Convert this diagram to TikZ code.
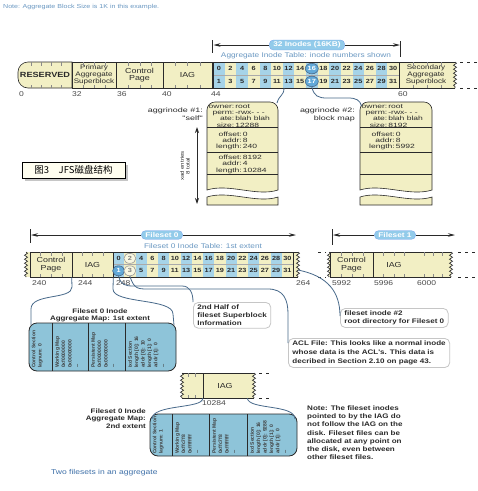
\documentclass[tikz,border=0pt]{standalone}
\usepackage{fontspec}
\setmainfont{Liberation Sans}
\newfontfamily\fa[FakeStretch=1.22]{Liberation Sans}
\newfontfamily\fb[FakeStretch=1.4]{Liberation Sans}
\newfontfamily\cjk{Noto Sans CJK SC}
\usetikzlibrary{decorations.pathmorphing,arrows.meta,shapes.geometric}
\definecolor{ylw}{HTML}{F2EFC4}
\definecolor{lblue}{HTML}{A6D3E8}
\definecolor{bxblue}{HTML}{8EC4D9}
\definecolor{dk}{HTML}{2A2A2A}
\definecolor{steel}{HTML}{6A98C2}
\definecolor{bub}{HTML}{92CBEA}
\definecolor{cline}{HTML}{48698A}
\definecolor{cblue}{HTML}{62A9D8}
\definecolor{capblue}{HTML}{3D6FA8}
\newcommand\fs[2]{\fontsize{#1}{#2}\selectfont}
\tikzset{
  every node/.style={inner sep=0pt},
  seg/.style={draw=dk, fill=ylw, line width=0.6pt, minimum height=26pt, align=center, font=\fa\fs{7.3}{7.6}, text=dk},
  plab/.style={anchor=west, font=\fa\fs{7}{7}, text=dk!85},
  num/.style={font=\fa\bfseries\fs{6}{6}, text=dk},
  tick/.style={draw=dk!55, line width=0.4pt},
  wave/.style={decorate, decoration={snake, amplitude=1.5pt, segment length=4pt}, draw=dk, line width=0.6pt},
  dsh/.style={draw=dk, line width=0.6pt, dash pattern=on 3pt off 4pt},
  link/.style={draw=cline, line width=0.8pt},
  bubble/.style={fill=bub, draw=bub!80!blue, line width=0.3pt, rounded corners=4pt, text=white, font=\fa\bfseries\fs{6.8}{7}, inner xsep=4pt, inner ysep=1.8pt},
  dimarr/.style={draw=dk, line width=0.7pt, -{Stealth[length=7pt,width=3.5pt]}},
  ellA/.style={ellipse, draw=cline, fill=cblue, text=white, minimum width=13pt, minimum height=10.5pt, line width=0.6pt, font=\fa\bfseries\fs{6}{6}},
  ellB/.style={ellipse, draw=gray!80, fill=white!50!ylw, text=dk!60, minimum width=12pt, minimum height=10pt, line width=0.6pt, font=\fa\bfseries\fs{6}{6}},
  boxtxt/.style={anchor=north west, font=\fb\fs{6.1}{6.1}, text=dk},
  bluebox/.style={draw=dk, fill=bxblue, rounded corners=8pt, line width=0.8pt},
  coltxt/.style={rotate=90, anchor=north west, align=left, font=\bfseries\fs{5}{6.4}, text=dk!90},
  callout/.style={draw=gray!45, line width=0.8pt, rounded corners=5pt, fill=white, anchor=north west, align=left, inner xsep=4pt, inner ysep=2.5pt, text=dk},
  ann/.style={font=\fa\bfseries\fs{6.6}{8}},
}
\begin{document}
\begin{tikzpicture}[x=1pt,y=-1pt]
\path[use as bounding box, fill=white] (0,0) rectangle (478,491);

% ---------- top note ----------
\node[anchor=west, font=\fa\fs{5.8}{6}, text=steel] (topnote) at (3,6.5) {Note: Aggregate Block Size is 1K in this example.};

% ---------- aggregate bar ----------
\draw[fill=ylw, draw=dk, line width=0.6pt] (72,62) -- (28,62) arc[start angle=90, end angle=180, radius=10pt] -- (18,78) arc[start angle=180, end angle=270, radius=10pt] -- (72,88) -- cycle;
\node[font=\fa\bfseries\fs{7.5}{7.5}, text=dk] (res) at (45,75) {RESERVED};
\node[seg, minimum width=44pt, font=\fa\fs{6.6}{6.8}] (psb) at (94,75) {Primary\\Aggregate\\Superblock};
\node[seg, minimum width=47pt] (cpA) at (139.5,75) {Control\\Page};
\node[seg, minimum width=49pt] (iagA) at (187.5,75) {IAG};
\fill[ylw] (399,62) rectangle (455,88);
\draw[dk, line width=0.6pt] (455,62) -- (399,62) -- (399,88) -- (455,88);
\draw[wave] (455,62) -- (455,88);
\node[font=\fa\fs{6.6}{6.8}, align=center, text=dk] (ssb) at (426,75) {Secondary\\Aggregate\\Superblock};
\draw[dsh] (460,62) -- (477,62);
\draw[dsh] (460,88) -- (477,88);
\foreach \x in {31,41,51,61,83,94,105,128,140,151,175,187,200,413,427,441}{
  \draw[tick] (\x,62) -- ++(0,3.5);
  \draw[tick] (\x,88) -- ++(0,-3.5);
}
% inode table
\foreach \i in {0,...,15}{
  \pgfmathsetmacro\xa{213+\i*11.625}
  \pgfmathsetmacro\xc{218.8+\i*11.625}
  \pgfmathtruncatemacro\tv{2*\i}
  \pgfmathtruncatemacro\bv{2*\i+1}
  \ifodd\i\relax\def\cc{ylw}\else\def\cc{lblue}\fi
  \fill[\cc] (\xa,62) rectangle ++(11.625,26);
  \node[num] (at\i) at (\xc,68.6) {\tv};
  \node[num] (ab\i) at (\xc,81.4) {\bv};
}
\draw[dk!40, line width=0.3pt] (213,75) -- (399,75);
\draw[dk, line width=0.6pt] (213,62) rectangle (399,88);
\node[ellA] (e16) at (at8) {16};
\node[ellA] (e17) at (ab8) {17};
% positions
\node[plab] (p0) at (19,94) {0};
\node[plab] (p32) at (72,94) {32};
\node[plab] (p36) at (117,94) {36};
\node[plab] (p40) at (162,94) {40};
\node[plab] (p44) at (211,94) {44};
\node[plab] (p60) at (398,94) {60};
% 32 inodes dimension
\coordinate (d1) at (213.5,45);
\coordinate (d2) at (400,45);
\draw[dk, line width=0.6pt] (212.5,40) -- (212.5,53);
\draw[dk, line width=0.6pt] (400,41) -- (400,57);
\node[bubble] (b32) at (307,45) {32 Inodes (16KB)};
\draw[dimarr] (b32.west) -- (d1);
\draw[dimarr] (b32.east) -- (d2);
\node[font=\fa\fs{6.8}{7}, text=steel] (ait) at (306,56) {Aggregate Inode Table: inode numbers shown};

% ---------- aggrinode boxes ----------
\begin{scope}[xshift=207pt]
\draw[fill=ylw, draw=dk, line width=0.6pt] (0,190) -- (0,110) arc[start angle=180, end angle=90, radius=8pt] -- (63,102) arc[start angle=90, end angle=0, radius=8pt] -- (71,190) .. controls (50,197) and (22,183) .. (0,190) -- cycle;
\draw[fill=ylw, draw=dk, line width=0.6pt] (0,197) .. controls (22,190) and (50,204) .. (71,197) -- (71,205) -- (0,205) -- cycle;
\draw[dk, line width=0.6pt] (0,127) -- (71,127) (0,152) -- (71,152) (0,174) -- (71,174);
\node[boxtxt] (hda) at (1.5,104) {\begin{tabular}{@{}r@{\,}l@{}}owner:&root\\perm:&-rwx- - -\\ate:&blah blah\\size:&12288\end{tabular}};
\node[boxtxt] (s1a) at (9,131.5) {\begin{tabular}{@{}r@{\,}l@{}}offset:&0\\addr:&8\\length:&240\end{tabular}};
\node[boxtxt] (s2a) at (9,155) {\begin{tabular}{@{}r@{\,}l@{}}offset:&8192\\addr:&4\\length:&10284\end{tabular}};
\coordinate (inA) at (70,103);
\end{scope}
\begin{scope}[xshift=360pt]
\draw[fill=ylw, draw=dk, line width=0.6pt] (0,190) -- (0,110) arc[start angle=180, end angle=90, radius=8pt] -- (64,102) arc[start angle=90, end angle=0, radius=8pt] -- (72,190) .. controls (50,197) and (22,183) .. (0,190) -- cycle;
\draw[fill=ylw, draw=dk, line width=0.6pt] (0,197) .. controls (22,190) and (50,204) .. (72,197) -- (72,205) -- (0,205) -- cycle;
\draw[dk, line width=0.6pt] (0,127) -- (72,127) (0,152) -- (72,152) (0,174) -- (72,174);
\node[boxtxt] (hdb) at (1.5,104) {\begin{tabular}{@{}r@{\,}l@{}}owner:&root\\perm:&-rwx- - -\\ate:&blah blah\\size:&8192\end{tabular}};
\node[boxtxt] (s1b) at (9,131.5) {\begin{tabular}{@{}r@{\,}l@{}}offset:&0\\addr:&8\\length:&5992\end{tabular}};
\coordinate (inB) at (1.5,106);
\end{scope}
\node[anchor=north east, align=right, font=\fb\fs{6.4}{8}, text=dk] (agl1) at (203,108) {aggrinode \#1:\\"self"};
\node[anchor=north east, align=right, font=\fb\fs{6.4}{8}, text=dk] (agl2) at (355,108) {aggrinode \#2:\\block map};
\coordinate (xa1) at (197,127);
\coordinate (xa2) at (197,204);
\draw[dk, line width=0.8pt, {Stealth[length=6pt,width=4pt]}-{Stealth[length=6pt,width=4pt]}] (xa1) -- (xa2);
\node[rotate=90, align=center, font=\fa\fs{5}{5.6}, text=dk] (xad) at (185,166) {xad entries\\8 total};
% connectors top
\coordinate (c6) at (284,88);
\draw[link] (c6) .. controls (284,96) and (279,95) .. (inA);
\draw[link] (e17.south) .. controls (314,96) and (318,98) .. (327,98) -- (348,98) .. controls (356,98) and (360,100) .. (inB);

% ---------- figure label ----------
\fill[gray!45] (25,165) rectangle (128,181);
\node[draw=black, fill=yellow!6, line width=0.6pt, minimum width=103pt, minimum height=16pt, font=\cjk\fs{9.5}{10}] (fig) at (73.5,170) {图3\quad JFS磁盘结构};

% ---------- fileset 0 ----------
\fill[ylw] (26,252) rectangle (30,277);
\draw[wave] (26,252) -- (26,277);
\node[seg, minimum width=42pt, minimum height=25pt] (cpF) at (51,264.5) {Control\\Page};
\node[seg, minimum width=41pt, minimum height=25pt] (iagF) at (92.5,264.5) {IAG};
\foreach \i in {0,...,15}{
  \pgfmathsetmacro\xa{113+\i*11.25}
  \pgfmathsetmacro\xc{118.6+\i*11.25}
  \pgfmathtruncatemacro\tv{2*\i}
  \pgfmathtruncatemacro\bv{2*\i+1}
  \ifodd\i\relax\def\cc{ylw}\else\def\cc{lblue}\fi
  \fill[\cc] (\xa,252) rectangle ++(11.25,25);
  \node[num] (ft\i) at (\xc,258.4) {\tv};
  \node[num] (fb\i) at (\xc,270.8) {\bv};
}
\fill[ylw] (293,252) rectangle (298,277);
\draw[dk!40, line width=0.3pt] (113,264.5) -- (293,264.5);
\draw[dk, line width=0.6pt] (113,252) rectangle (293,277);
\draw[dk, line width=0.6pt] (293,252) -- (298,252) (293,277) -- (298,277);
\draw[wave] (298,252) -- (298,277);
\foreach \x in {40,51,62,82,92,103}{
  \draw[tick] (\x,252) -- ++(0,3.5);
  \draw[tick] (\x,277) -- ++(0,-3.5);
}
\node[ellB] (c2) at (ft1) {2};
\node[ellA, minimum width=12pt, minimum height=10pt] (c1) at (fb0) {1};
\node[ellB] (c3) at (fb1) {3};
\node[plab] (p240) at (32,283) {240};
\node[plab] (p244) at (78,283) {244};
\node[plab] (p248) at (116,283) {248};
\node[plab] (p264) at (296,283) {264};
\coordinate (f0a) at (31,235);
\coordinate (f0b) at (296,235);
\draw[dk, line width=0.6pt] (30,229) -- (30,243);
\node[bubble] (fs0) at (162,235) {Fileset 0};
\draw[dimarr] (fs0.west) -- (f0a);
\draw[dimarr] (fs0.east) -- (f0b);
\node[font=\fa\fs{6.8}{7}, text=steel] (fit) at (203,246.5) {Fileset 0 Inode Table: 1st extent};

% ---------- fileset 1 ----------
\draw[dsh] (318,252) -- (326,252);
\draw[dsh] (318,277) -- (326,277);
\fill[ylw] (329,252) rectangle (331,277);
\draw[wave] (329,252) -- (329,277);
\node[seg, minimum width=43pt, minimum height=25pt] (cpG) at (351.5,264.5) {Control\\Page};
\node[seg, minimum width=42pt, minimum height=25pt] (iagG) at (394,264.5) {IAG};
\fill[ylw] (415,252) rectangle (451,277);
\draw[dk, line width=0.6pt] (415,252) -- (451,252) (415,277) -- (451,277);
\draw[wave] (451,252) -- (451,277);
\draw[dsh] (458,252) -- (477,252);
\draw[dsh] (458,277) -- (477,277);
\foreach \x in {341,352,363,383,394,404,424,433,442}{
  \draw[tick] (\x,252) -- ++(0,3.5);
  \draw[tick] (\x,277) -- ++(0,-3.5);
}
\node[plab] (p5992) at (332,283) {5992};
\node[plab] (p5996) at (374,283) {5996};
\node[plab] (p6000) at (417,283) {6000};
\coordinate (f1a) at (333,235);
\coordinate (f1b) at (455,235);
\draw[dk, line width=0.6pt] (332,229) -- (332,245);
\node[bubble] (fs1) at (395,235) {Fileset 1};
\draw[dimarr] (fs1.west) -- (f1a);
\draw[dimarr] (fs1.east) -- (f1b);

% ---------- 1st extent map ----------
\node[align=center, font=\fa\bfseries\fs{6.5}{7}, text=dk] (t1) at (100,315.5) {Fileset 0 Inode\\Aggregate Map: 1st extent};
\node[bluebox, minimum width=147pt, minimum height=48pt] (ext1) at (102.5,347) {};
\draw[dk, line width=0.7pt] (52,323) -- (52,371) (88,323) -- (88,371) (125,323) -- (125,371);
\node[coltxt] (k1) at (31.5,368) {Control Section\\lagnum: 0};
\node[coltxt] (k2) at (55,368) {Working Map\\0xf0000000\\0x00000000\\...};
\node[coltxt] (k3) at (91,368) {Persistent Map\\0xf0000000\\0x00000000\\...};
\node[coltxt] (k4) at (128,368) {ixd Section\\length [0]: 16\\addr [0]: 10\\length [1]: 0\\addr [1]: 0\\...};
\coordinate (e1l) at (31,325);
\coordinate (e1r) at (174,325);
\draw[link] (iagF.south west) -- (72,287) .. controls (72,300) and (31,293) .. (31,309) -- (e1l);
\draw[link] (iagF.south east) -- (113,289) .. controls (113,304) and (173,298) .. (173,314) -- (e1r);

% ---------- callouts ----------
\node[callout, ann] (half) at (193,302) {2nd Half of\\fileset Superblock\\Information};
\node[callout, ann] (ino2) at (340,308) {fileset inode \#2\\root directory for Fileset 0};
\node[callout, ann, font=\fa\bfseries\fs{6.6}{9}] (acl) at (288,338) {ACL File: This looks like a normal inode\\whose data is the ACL's. This data is\\decribed in Section 2.10 on page 43.};
\draw[link] (c1.south) .. controls (121,285) and (125,286) .. (134,286) -- (182,286) .. controls (190,286) and (193,293) .. (half.north west);
\draw[link] (c3.south) .. controls (134,289) and (138,289) .. (148,289) -- (268,289) .. controls (284,289) and (288,300) .. (288,314) -- ([yshift=-5pt]acl.north west);
\coordinate (f0end) at (298,270);
\draw[link] (f0end) .. controls (328,276) and (340,292) .. ([yshift=-8pt]ino2.north west);

% ---------- IAG at 10284 ----------
\fill[ylw] (182,373) rectangle (203,398);
\draw[dk, line width=0.6pt] (182,373) -- (203,373) (182,398) -- (203,398);
\draw[wave] (182,373) -- (182,398);
\node[seg, minimum width=44pt, minimum height=25pt] (iagH) at (225,385.5) {IAG};
\fill[ylw] (247,373) rectangle (254,398);
\draw[dk, line width=0.6pt] (247,373) -- (254,373) (247,398) -- (254,398);
\draw[wave] (254,373) -- (254,398);
\draw[dsh] (259,373) -- (269,373);
\draw[dsh] (259,398) -- (269,398);
\foreach \x in {188,195}{
  \draw[tick] (\x,373) -- ++(0,3.5);
  \draw[tick] (\x,398) -- ++(0,-3.5);
}
\node[plab] (p10284) at (202,403) {10284};

% ---------- 2nd extent map ----------
\node[align=right, anchor=east, font=\fa\bfseries\fs{6.5}{7.5}, text=dk] (t2) at (146,418.5) {Fileset 0 Inode\\Aggregate Map:\\2nd extent};
\node[bluebox, minimum width=147pt, minimum height=42pt] (ext2) at (223.5,435) {};
\draw[dk, line width=0.7pt] (172,414) -- (172,456) (209,414) -- (209,456) (247,414) -- (247,456);
\node[coltxt] (m1) at (152.5,454) {Control Section\\lagnum: 1};
\node[coltxt] (m2) at (175,454) {Working Map\\0xffc7f8\\0xffffffff\\...};
\node[coltxt] (m3) at (212,454) {Persistent Map\\0xffc7f8\\0xffffffff\\...};
\node[coltxt] (m4) at (250,454) {ixd Section\\length [0]: 16\\addr [0]: 9288\\length [1]: 0\\addr [1]: 0\\...};
\coordinate (e2l) at (152,419);
\coordinate (e2r) at (295,419);
\draw[link] (iagH.south west) .. controls (203,409) and (152,404) .. (e2l);
\draw[link] (iagH.south east) .. controls (249,410) and (295,404) .. (e2r);

% ---------- note ----------
\node[anchor=north west, align=left, font=\fa\bfseries\fs{6.6}{8.2}, text=dk] (note) at (307,405.5) {Note: The fileset inodes\\pointed to by the IAG do\\not follow the IAG on the\\disk. Fileset files can be\\allocated at any point on\\the disk, even between\\other fileset files.};

% ---------- caption ----------
\node[anchor=west, font=\fa\fs{7}{7}, text=capblue] (cap) at (51,473) {Two filesets in an aggregate};
\end{tikzpicture}
\end{document}
